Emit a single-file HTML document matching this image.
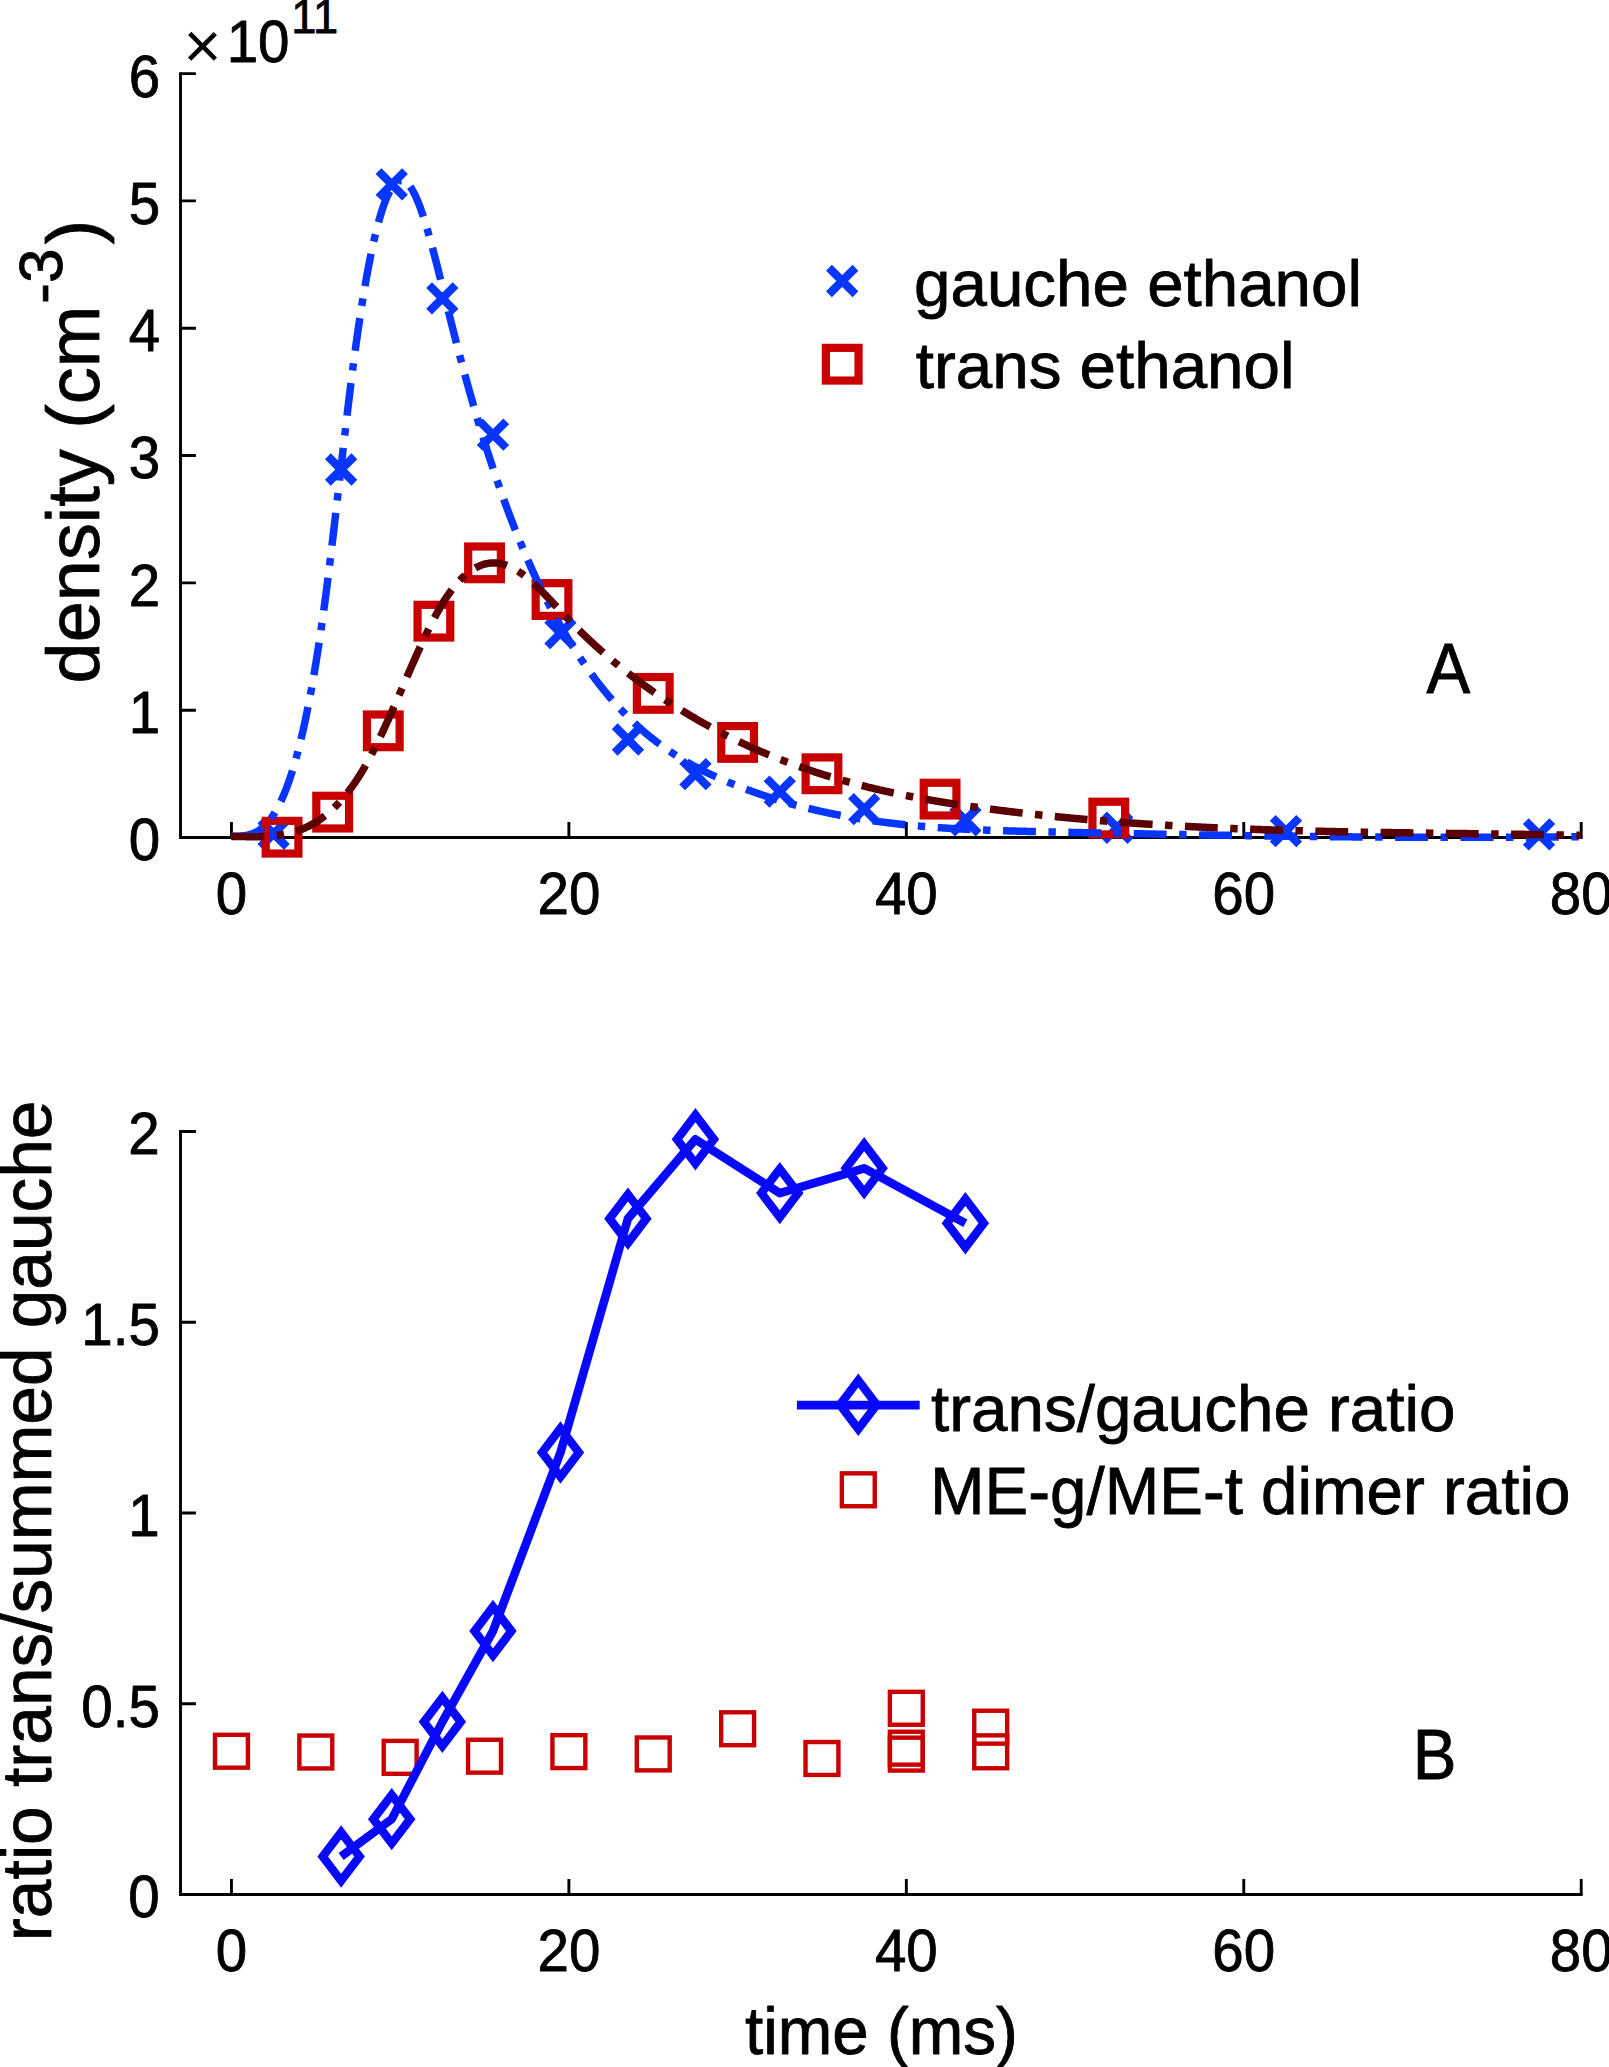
<!DOCTYPE html>
<html><head><meta charset="utf-8"><title>density and ratio plot</title>
<style>html,body{margin:0;padding:0;background:#fff;}svg{display:block;}</style>
</head><body>
<svg width="1609" height="2067" viewBox="0 0 1609 2067" font-family="'Liberation Sans', Arial, Helvetica, sans-serif" fill="#000">
<style>text{stroke:#000;stroke-width:0.8px;stroke-linejoin:round;}</style>
<rect width="1609" height="2067" fill="#fff"/>
<path d="M180.5,72.15V837.5H1582.61" stroke="#000" stroke-width="2.9" fill="none" stroke-linecap="butt" stroke-linejoin="miter"/>
<path d="M180.5,837.50h15.4M180.5,710.18h15.4M180.5,582.87h15.4M180.5,455.55h15.4M180.5,328.23h15.4M180.5,200.92h15.4M180.5,73.60h15.4M231.45,837.5v-15.4M568.89,837.5v-15.4M906.33,837.5v-15.4M1243.77,837.5v-15.4M1581.21,837.5v-15.4" stroke="#000" stroke-width="2.9" fill="none"/>
<text transform="translate(160.20,860.41) scale(1,1.045)" font-size="56.5" text-anchor="end" >0</text>
<text transform="translate(160.20,733.09) scale(1,1.045)" font-size="56.5" text-anchor="end" >1</text>
<text transform="translate(160.20,605.77) scale(1,1.045)" font-size="56.5" text-anchor="end" >2</text>
<text transform="translate(160.20,478.45) scale(1,1.045)" font-size="56.5" text-anchor="end" >3</text>
<text transform="translate(160.20,351.14) scale(1,1.045)" font-size="56.5" text-anchor="end" >4</text>
<text transform="translate(160.20,223.82) scale(1,1.045)" font-size="56.5" text-anchor="end" >5</text>
<text transform="translate(160.20,96.50) scale(1,1.045)" font-size="56.5" text-anchor="end" >6</text>
<text transform="translate(231.45,913.91) scale(1,1.045)" font-size="56.5" text-anchor="middle" >0</text>
<text transform="translate(568.89,913.91) scale(1,1.045)" font-size="56.5" text-anchor="middle" >20</text>
<text transform="translate(906.33,913.91) scale(1,1.045)" font-size="56.5" text-anchor="middle" >40</text>
<text transform="translate(1243.77,913.91) scale(1,1.045)" font-size="56.5" text-anchor="middle" >60</text>
<text transform="translate(1581.21,913.91) scale(1,1.045)" font-size="56.5" text-anchor="middle" >80</text>
<text transform="translate(183.4,68.3)" font-size="65" style="stroke-width:0">×</text>
<text transform="translate(226.69,61.5) scale(1,1.045)" font-size="56.5">10</text>
<text transform="translate(291.25,33) scale(1,1.045)" font-size="45.3">11</text>
<path d="M260.38,820.51L286.88,847.01M260.38,847.01L286.88,820.51" stroke="#0836ff" stroke-width="8.2" fill="none"/>
<path d="M327.87,456.23L354.37,482.73M327.87,482.73L354.37,456.23" stroke="#0836ff" stroke-width="8.2" fill="none"/>
<path d="M378.48,171.05L404.98,197.55M378.48,197.55L404.98,171.05" stroke="#0836ff" stroke-width="8.2" fill="none"/>
<path d="M429.10,285.17L455.60,311.67M429.10,311.67L455.60,285.17" stroke="#0836ff" stroke-width="8.2" fill="none"/>
<path d="M479.72,421.46L506.22,447.96M479.72,447.96L506.22,421.46" stroke="#0836ff" stroke-width="8.2" fill="none"/>
<path d="M547.20,619.90L573.70,646.40M547.20,646.40L573.70,619.90" stroke="#0836ff" stroke-width="8.2" fill="none"/>
<path d="M614.69,726.26L641.19,752.76M614.69,752.76L641.19,726.26" stroke="#0836ff" stroke-width="8.2" fill="none"/>
<path d="M682.18,760.90L708.68,787.40M682.18,787.40L708.68,760.90" stroke="#0836ff" stroke-width="8.2" fill="none"/>
<path d="M766.54,778.35L793.04,804.85M766.54,804.85L793.04,778.35" stroke="#0836ff" stroke-width="8.2" fill="none"/>
<path d="M850.90,795.80L877.40,822.30M850.90,822.30L877.40,795.80" stroke="#0836ff" stroke-width="8.2" fill="none"/>
<path d="M952.13,807.01L978.63,833.51M952.13,833.51L978.63,807.01" stroke="#0836ff" stroke-width="8.2" fill="none"/>
<path d="M1103.98,814.52L1130.48,841.02M1103.98,841.02L1130.48,814.52" stroke="#0836ff" stroke-width="8.2" fill="none"/>
<path d="M1272.70,817.96L1299.20,844.46M1272.70,844.46L1299.20,817.96" stroke="#0836ff" stroke-width="8.2" fill="none"/>
<path d="M1525.78,821.15L1552.28,847.65M1525.78,847.65L1552.28,821.15" stroke="#0836ff" stroke-width="8.2" fill="none"/>
<rect x="265.72" y="820.85" width="32.70" height="32.70" stroke="#c80000" stroke-width="8.2" fill="none"/>
<rect x="316.33" y="795.76" width="32.70" height="32.70" stroke="#c80000" stroke-width="8.2" fill="none"/>
<rect x="366.95" y="714.50" width="32.70" height="32.70" stroke="#c80000" stroke-width="8.2" fill="none"/>
<rect x="417.56" y="604.83" width="32.70" height="32.70" stroke="#c80000" stroke-width="8.2" fill="none"/>
<rect x="468.18" y="546.50" width="32.70" height="32.70" stroke="#c80000" stroke-width="8.2" fill="none"/>
<rect x="535.67" y="583.18" width="32.70" height="32.70" stroke="#c80000" stroke-width="8.2" fill="none"/>
<rect x="636.90" y="677.05" width="32.70" height="32.70" stroke="#c80000" stroke-width="8.2" fill="none"/>
<rect x="721.26" y="726.09" width="32.70" height="32.70" stroke="#c80000" stroke-width="8.2" fill="none"/>
<rect x="805.62" y="757.42" width="32.70" height="32.70" stroke="#c80000" stroke-width="8.2" fill="none"/>
<rect x="923.72" y="782.77" width="32.70" height="32.70" stroke="#c80000" stroke-width="8.2" fill="none"/>
<rect x="1092.44" y="801.74" width="32.70" height="32.70" stroke="#c80000" stroke-width="8.2" fill="none"/>
<path d="M231.40,836.16 L232.30,836.18 L233.20,836.20 L234.10,836.21 L235.00,836.22 L235.90,836.22 L236.80,836.22 L237.70,836.20 L238.60,836.18 L239.50,836.14 L240.40,836.10 L241.30,836.03 L242.20,835.96 L243.10,835.87 L244.00,835.76 L244.90,835.63 L245.80,835.48 L246.70,835.31 L247.60,835.12 L248.50,834.91 L249.40,834.67 L250.30,834.41 L251.20,834.11 L252.10,833.79 L253.00,833.45 L253.90,833.06 L254.80,832.65 L255.70,832.21 L256.60,831.73 L257.50,831.21 L258.40,830.66 L259.30,830.07 L260.20,829.44 L261.10,828.77 L262.00,828.05 L262.90,827.30 L263.80,826.50 L264.70,825.65 L265.60,824.76 L266.50,823.82 L267.40,822.83 L268.30,821.79 L269.20,820.70 L270.09,819.56 L270.99,818.36 L271.89,817.11 L272.79,815.80 L273.69,814.43 L274.59,813.01 L275.49,811.52 L276.39,809.97 L277.29,808.36 L278.19,806.69 L279.09,804.95 L279.99,803.14 L280.89,801.27 L281.79,799.33 L282.69,797.32 L283.59,795.23 L284.49,793.08 L285.39,790.85 L286.29,788.54 L287.19,786.16 L288.09,783.71 L288.99,781.17 L289.89,778.55 L290.79,775.86 L291.69,773.08 L292.59,770.22 L293.49,767.27 L294.39,764.24 L295.29,761.12 L296.19,757.91 L297.09,754.61 L297.99,751.22 L298.89,747.74 L299.79,744.17 L300.69,740.50 L301.59,736.73 L302.49,732.87 L303.39,728.91 L304.29,724.86 L305.19,720.70 L306.09,716.43 L306.99,712.07 L307.89,707.60 L308.79,703.03 L309.69,698.35 L310.59,693.56 L311.49,688.66 L312.39,683.65 L313.29,678.53 L314.19,673.30 L315.09,667.96 L315.99,662.49 L316.89,656.92 L317.79,651.22 L318.69,645.40 L319.59,639.47 L320.49,633.41 L321.39,627.23 L322.29,620.93 L323.19,614.50 L324.09,607.95 L324.99,601.27 L325.89,594.46 L326.79,587.52 L327.69,580.46 L328.59,573.29 L329.49,566.01 L330.39,558.65 L331.29,551.19 L332.19,543.66 L333.09,536.05 L333.99,528.39 L334.89,520.67 L335.79,512.91 L336.69,505.11 L337.59,497.28 L338.49,489.44 L339.39,481.58 L340.29,473.72 L341.19,465.86 L342.09,458.02 L342.99,450.20 L343.89,442.42 L344.79,434.67 L345.69,426.96 L346.59,419.32 L347.48,411.74 L348.38,404.23 L349.28,396.80 L350.18,389.46 L351.08,382.22 L351.98,375.09 L352.88,368.07 L353.78,361.17 L354.68,354.40 L355.58,347.76 L356.48,341.25 L357.38,334.87 L358.28,328.62 L359.18,322.50 L360.08,316.51 L360.98,310.64 L361.88,304.91 L362.78,299.31 L363.68,293.83 L364.58,288.49 L365.48,283.27 L366.38,278.19 L367.28,273.23 L368.18,268.40 L369.08,263.70 L369.98,259.13 L370.88,254.69 L371.78,250.38 L372.68,246.20 L373.58,242.15 L374.48,238.22 L375.38,234.43 L376.28,230.76 L377.18,227.23 L378.08,223.82 L378.98,220.54 L379.88,217.39 L380.78,214.37 L381.68,211.48 L382.58,208.72 L383.48,206.09 L384.38,203.58 L385.28,201.21 L386.18,198.96 L387.08,196.85 L387.98,194.86 L388.88,193.00 L389.78,191.27 L390.68,189.67 L391.58,188.20 L392.48,186.85 L393.38,185.64 L394.28,184.55 L395.18,183.59 L396.08,182.76 L396.98,182.06 L397.88,181.49 L398.78,181.05 L399.68,180.74 L400.58,180.55 L401.48,180.49" stroke="#0836ff" stroke-width="7.5" fill="none" stroke-dasharray="32.950 12.481 7.489 12.481"/>
<path d="M401.48,180.49 L402.38,180.57 L403.28,180.77 L404.18,181.10 L405.08,181.56 L405.98,182.14 L406.88,182.86 L407.78,183.70 L408.68,184.67 L409.58,185.77 L410.48,187.00 L411.38,188.36 L412.28,189.83 L413.18,191.43 L414.08,193.14 L414.98,194.96 L415.88,196.89 L416.78,198.92 L417.68,201.06 L418.58,203.30 L419.48,205.63 L420.38,208.05 L421.28,210.57 L422.18,213.17 L423.08,215.85 L423.98,218.61 L424.87,221.44 L425.77,224.35 L426.67,227.32 L427.57,230.36 L428.47,233.47 L429.37,236.63 L430.27,239.85 L431.17,243.12 L432.07,246.43 L432.97,249.80 L433.87,253.21 L434.77,256.65 L435.67,260.13 L436.57,263.65 L437.47,267.19 L438.37,270.76 L439.27,274.35 L440.17,277.96 L441.07,281.58 L441.97,285.22 L442.87,288.87 L443.77,292.52 L444.67,296.17 L445.57,299.83 L446.47,303.48 L447.37,307.12 L448.27,310.75 L449.17,314.37 L450.07,317.97 L450.97,321.56 L451.87,325.12 L452.77,328.67 L453.67,332.20 L454.57,335.72 L455.47,339.22 L456.37,342.70 L457.27,346.16 L458.17,349.60 L459.07,353.03 L459.97,356.44 L460.87,359.83 L461.77,363.20 L462.67,366.55 L463.57,369.89 L464.47,373.20 L465.37,376.50 L466.27,379.78 L467.17,383.04 L468.07,386.28 L468.97,389.50 L469.87,392.70 L470.77,395.88 L471.67,399.04 L472.57,402.19 L473.47,405.31 L474.37,408.41 L475.27,411.50 L476.17,414.56 L477.07,417.60 L477.97,420.63 L478.87,423.63 L479.77,426.62 L480.67,429.58 L481.57,432.53 L482.47,435.46 L483.37,438.37 L484.27,441.26 L485.17,444.13 L486.07,446.98 L486.97,449.81 L487.87,452.62 L488.77,455.42 L489.67,458.20 L490.57,460.96 L491.47,463.70 L492.37,466.42 L493.27,469.12 L494.17,471.81 L495.07,474.47 L495.97,477.12 L496.87,479.76 L497.77,482.37 L498.67,484.97 L499.57,487.54 L500.47,490.11 L501.36,492.65 L502.26,495.18 L503.16,497.69 L504.06,500.18 L504.96,502.65 L505.86,505.11 L506.76,507.55 L507.66,509.98 L508.56,512.39 L509.46,514.78 L510.36,517.15 L511.26,519.51 L512.16,521.85 L513.06,524.18 L513.96,526.49 L514.86,528.78 L515.76,531.06 L516.66,533.32 L517.56,535.56 L518.46,537.79 L519.36,540.01 L520.26,542.20 L521.16,544.39 L522.06,546.55 L522.96,548.71 L523.86,550.84 L524.76,552.96 L525.66,555.07 L526.56,557.16 L527.46,559.24 L528.36,561.30 L529.26,563.35 L530.16,565.38 L531.06,567.40 L531.96,569.40 L532.86,571.39 L533.76,573.36 L534.66,575.32 L535.56,577.27 L536.46,579.20 L537.36,581.12 L538.26,583.03 L539.16,584.92 L540.06,586.79 L540.96,588.66 L541.86,590.51 L542.76,592.34 L543.66,594.16 L544.56,595.97 L545.46,597.77 L546.36,599.55 L547.26,601.32 L548.16,603.08 L549.06,604.82 L549.96,606.56 L550.86,608.28 L551.76,609.98 L552.66,611.68 L553.56,613.36 L554.46,615.03 L555.36,616.68 L556.26,618.33 L557.16,619.96 L558.06,621.58 L558.96,623.19 L559.86,624.79 L560.76,626.37 L561.66,627.94 L562.56,629.51 L563.46,631.06 L564.36,632.59 L565.26,634.12 L566.16,635.64 L567.06,637.14 L567.96,638.64 L568.86,640.12 L569.76,641.59 L570.66,643.06 L571.56,644.51 L572.46,645.95 L573.36,647.38 L574.26,648.80 L575.16,650.20 L576.06,651.60 L576.96,652.99 L577.86,654.37 L578.75,655.74 L579.65,657.10 L580.55,658.44 L581.45,659.78 L582.35,661.11 L583.25,662.43 L584.15,663.74 L585.05,665.04 L585.95,666.33 L586.85,667.61 L587.75,668.88 L588.65,670.15 L589.55,671.40 L590.45,672.64 L591.35,673.88 L592.25,675.10 L593.15,676.32 L594.05,677.53 L594.95,678.72 L595.85,679.91 L596.75,681.09 L597.65,682.26 L598.55,683.43 L599.45,684.58 L600.35,685.72 L601.25,686.86 L602.15,687.99 L603.05,689.10 L603.95,690.21 L604.85,691.32 L605.75,692.41 L606.65,693.49 L607.55,694.57 L608.45,695.64 L609.35,696.70 L610.25,697.75 L611.15,698.79 L612.05,699.83 L612.95,700.85 L613.85,701.87 L614.75,702.88 L615.65,703.88 L616.55,704.88 L617.45,705.87 L618.35,706.84 L619.25,707.82 L620.15,708.78 L621.05,709.74 L621.95,710.68 L622.85,711.62 L623.75,712.56 L624.65,713.48 L625.55,714.40 L626.45,715.31 L627.35,716.21 L628.25,717.11 L629.15,718.00 L630.05,718.88 L630.95,719.75 L631.85,720.62 L632.75,721.48 L633.65,722.33 L634.55,723.18 L635.45,724.02 L636.35,724.85 L637.25,725.68 L638.15,726.50 L639.05,727.31 L639.95,728.11 L640.85,728.91 L641.75,729.70 L642.65,730.49 L643.55,731.27 L644.45,732.04 L645.35,732.81 L646.25,733.56 L647.15,734.32 L648.05,735.06 L648.95,735.81 L649.85,736.54 L650.75,737.27 L651.65,737.99 L652.55,738.71 L653.45,739.42 L654.35,740.12 L655.25,740.82 L656.14,741.51 L657.04,742.20 L657.94,742.88 L658.84,743.56 L659.74,744.22 L660.64,744.89 L661.54,745.55 L662.44,746.20 L663.34,746.85 L664.24,747.49 L665.14,748.13 L666.04,748.76 L666.94,749.38 L667.84,750.00 L668.74,750.62 L669.64,751.23 L670.54,751.83 L671.44,752.43 L672.34,753.03 L673.24,753.62 L674.14,754.20 L675.04,754.78 L675.94,755.36 L676.84,755.93 L677.74,756.50 L678.64,757.06 L679.54,757.62 L680.44,758.17 L681.34,758.72 L682.24,759.26 L683.14,759.80 L684.04,760.33 L684.94,760.86 L685.84,761.39 L686.74,761.91 L687.64,762.43 L688.54,762.94 L689.44,763.45 L690.34,763.95 L691.24,764.45 L692.14,764.95 L693.04,765.44 L693.94,765.93 L694.84,766.42 L695.74,766.90 L696.64,767.38 L697.54,767.85 L698.44,768.32 L699.34,768.79 L700.24,769.25 L701.14,769.71 L702.04,770.17 L702.94,770.62 L703.84,771.07 L704.74,771.51 L705.64,771.96 L706.54,772.40 L707.44,772.83 L708.34,773.27 L709.24,773.70 L710.14,774.12 L711.04,774.55 L711.94,774.97 L712.84,775.39 L713.74,775.80 L714.64,776.21 L715.54,776.62 L716.44,777.03 L717.34,777.44 L718.24,777.84 L719.14,778.24 L720.04,778.63 L720.94,779.03 L721.84,779.42 L722.74,779.81 L723.64,780.20 L724.54,780.58 L725.44,780.97 L726.34,781.35 L727.24,781.72 L728.14,782.10 L729.04,782.48 L729.94,782.85 L730.84,783.22 L731.74,783.59 L732.64,783.95 L733.53,784.32 L734.43,784.68 L735.33,785.04 L736.23,785.40 L737.13,785.76 L738.03,786.11 L738.93,786.46 L739.83,786.81 L740.73,787.16 L741.63,787.51 L742.53,787.86 L743.43,788.20 L744.33,788.54 L745.23,788.88 L746.13,789.22 L747.03,789.55 L747.93,789.89 L748.83,790.22 L749.73,790.55 L750.63,790.88 L751.53,791.21 L752.43,791.53 L753.33,791.85 L754.23,792.18 L755.13,792.50 L756.03,792.81 L756.93,793.13 L757.83,793.44 L758.73,793.76 L759.63,794.07 L760.53,794.37 L761.43,794.68 L762.33,794.99 L763.23,795.29 L764.13,795.59 L765.03,795.89 L765.93,796.19 L766.83,796.49 L767.73,796.78 L768.63,797.07 L769.53,797.37 L770.43,797.65 L771.33,797.94 L772.23,798.23 L773.13,798.51 L774.03,798.80 L774.93,799.08 L775.83,799.36 L776.73,799.63 L777.63,799.91 L778.53,800.18 L779.43,800.46 L780.33,800.73 L781.23,801.00 L782.13,801.26 L783.03,801.53 L783.93,801.79 L784.83,802.06 L785.73,802.32 L786.63,802.58 L787.53,802.84 L788.43,803.09 L789.33,803.35 L790.23,803.60 L791.13,803.85 L792.03,804.10 L792.93,804.35 L793.83,804.60 L794.73,804.84 L795.63,805.09 L796.53,805.33 L797.43,805.57 L798.33,805.81 L799.23,806.04 L800.13,806.28 L801.03,806.51 L801.93,806.75 L802.83,806.98 L803.73,807.21 L804.63,807.44 L805.53,807.66 L806.43,807.89 L807.33,808.11 L808.23,808.33 L809.13,808.55 L810.02,808.77 L810.92,808.99 L811.82,809.21 L812.72,809.42 L813.62,809.64 L814.52,809.85 L815.42,810.06 L816.32,810.27 L817.22,810.48 L818.12,810.68 L819.02,810.89 L819.92,811.09 L820.82,811.29 L821.72,811.49 L822.62,811.69 L823.52,811.89 L824.42,812.09 L825.32,812.28 L826.22,812.47 L827.12,812.67 L828.02,812.86 L828.92,813.05 L829.82,813.23 L830.72,813.42 L831.62,813.61 L832.52,813.79 L833.42,813.97 L834.32,814.16 L835.22,814.34 L836.12,814.51 L837.02,814.69 L837.92,814.87 L838.82,815.04 L839.72,815.22 L840.62,815.39 L841.52,815.56 L842.42,815.73 L843.32,815.90 L844.22,816.06 L845.12,816.23 L846.02,816.39 L846.92,816.56 L847.82,816.72 L848.72,816.88 L849.62,817.04 L850.52,817.20 L851.42,817.36 L852.32,817.51 L853.22,817.67 L854.12,817.82 L855.02,817.97 L855.92,818.12 L856.82,818.27 L857.72,818.42 L858.62,818.57 L859.52,818.72 L860.42,818.86 L861.32,819.01 L862.22,819.15 L863.12,819.29 L864.02,819.43 L864.92,819.57 L865.82,819.71 L866.72,819.85 L867.62,819.98 L868.52,820.12 L869.42,820.25 L870.32,820.38 L871.22,820.51 L872.12,820.64 L873.02,820.77 L873.92,820.90 L874.82,821.03 L875.72,821.15 L876.62,821.28 L877.52,821.40 L878.42,821.53 L879.32,821.65 L880.22,821.77 L881.12,821.89 L882.02,822.01 L882.92,822.13 L883.82,822.24 L884.72,822.36 L885.62,822.47 L886.52,822.59 L887.41,822.70 L888.31,822.81 L889.21,822.92 L890.11,823.03 L891.01,823.14 L891.91,823.25 L892.81,823.35 L893.71,823.46 L894.61,823.56 L895.51,823.67 L896.41,823.77 L897.31,823.87 L898.21,823.97 L899.11,824.07 L900.01,824.17 L900.91,824.27 L901.81,824.37 L902.71,824.46 L903.61,824.56 L904.51,824.65 L905.41,824.74 L906.31,824.84 L907.21,824.93 L908.11,825.02 L909.01,825.11 L909.91,825.20 L910.81,825.29 L911.71,825.37 L912.61,825.46 L913.51,825.55 L914.41,825.63 L915.31,825.72 L916.21,825.80 L917.11,825.88 L918.01,825.96 L918.91,826.04 L919.81,826.12 L920.71,826.20 L921.61,826.28 L922.51,826.36 L923.41,826.43 L924.31,826.51 L925.21,826.58 L926.11,826.66 L927.01,826.73 L927.91,826.81 L928.81,826.88 L929.71,826.95 L930.61,827.02 L931.51,827.09 L932.41,827.16 L933.31,827.23 L934.21,827.29 L935.11,827.36 L936.01,827.43 L936.91,827.49 L937.81,827.56 L938.71,827.62 L939.61,827.68 L940.51,827.75 L941.41,827.81 L942.31,827.87 L943.21,827.93 L944.11,827.99 L945.01,828.05 L945.91,828.11 L946.81,828.17 L947.71,828.22 L948.61,828.28 L949.51,828.34 L950.41,828.39 L951.31,828.45 L952.21,828.50 L953.11,828.55 L954.01,828.61 L954.91,828.66 L955.81,828.71 L956.71,828.76 L957.61,828.81 L958.51,828.86 L959.41,828.91 L960.31,828.96 L961.21,829.01 L962.11,829.06 L963.01,829.11 L963.91,829.15 L964.80,829.20 L965.70,829.24 L966.60,829.29 L967.50,829.33 L968.40,829.38 L969.30,829.42 L970.20,829.46 L971.10,829.51 L972.00,829.55 L972.90,829.59 L973.80,829.63 L974.70,829.67 L975.60,829.71 L976.50,829.75 L977.40,829.79 L978.30,829.83 L979.20,829.87 L980.10,829.91 L981.00,829.94 L981.90,829.98 L982.80,830.02 L983.70,830.05 L984.60,830.09 L985.50,830.12 L986.40,830.16 L987.30,830.19 L988.20,830.23 L989.10,830.26 L990.00,830.29 L990.90,830.33 L991.80,830.36 L992.70,830.39 L993.60,830.42 L994.50,830.45 L995.40,830.48 L996.30,830.52 L997.20,830.55 L998.10,830.58 L999.00,830.61 L999.90,830.63 L1000.80,830.66 L1001.70,830.69 L1002.60,830.72 L1003.50,830.75 L1004.40,830.78 L1005.30,830.80 L1006.20,830.83 L1007.10,830.86 L1008.00,830.89 L1008.90,830.91 L1009.80,830.94 L1010.70,830.96 L1011.60,830.99 L1012.50,831.01 L1013.40,831.04 L1014.30,831.06 L1015.20,831.09 L1016.10,831.11 L1017.00,831.14 L1017.90,831.16 L1018.80,831.19 L1019.70,831.21 L1020.60,831.23 L1021.50,831.26 L1022.40,831.28 L1023.30,831.30 L1024.20,831.32 L1025.10,831.35 L1026.00,831.37 L1026.90,831.39 L1027.80,831.41 L1028.70,831.43 L1029.60,831.46 L1030.50,831.48 L1031.40,831.50 L1032.30,831.52 L1033.20,831.54 L1034.10,831.56 L1035.00,831.58 L1035.90,831.60 L1036.80,831.62 L1037.70,831.65 L1038.60,831.67 L1039.50,831.69 L1040.40,831.71 L1041.29,831.73 L1042.19,831.75 L1043.09,831.77 L1043.99,831.79 L1044.89,831.81 L1045.79,831.83 L1046.69,831.85 L1047.59,831.87 L1048.49,831.89 L1049.39,831.91 L1050.29,831.93 L1051.19,831.95 L1052.09,831.97 L1052.99,831.99 L1053.89,832.01 L1054.79,832.03 L1055.69,832.04 L1056.59,832.06 L1057.49,832.08 L1058.39,832.10 L1059.29,832.12 L1060.19,832.14 L1061.09,832.16 L1061.99,832.18 L1062.89,832.20 L1063.79,832.22 L1064.69,832.24 L1065.59,832.26 L1066.49,832.28 L1067.39,832.30 L1068.29,832.32 L1069.19,832.34 L1070.09,832.36 L1070.99,832.38 L1071.89,832.40 L1072.79,832.42 L1073.69,832.43 L1074.59,832.45 L1075.49,832.47 L1076.39,832.49 L1077.29,832.51 L1078.19,832.53 L1079.09,832.55 L1079.99,832.57 L1080.89,832.59 L1081.79,832.61 L1082.69,832.63 L1083.59,832.65 L1084.49,832.66 L1085.39,832.68 L1086.29,832.70 L1087.19,832.72 L1088.09,832.74 L1088.99,832.76 L1089.89,832.78 L1090.79,832.80 L1091.69,832.82 L1092.59,832.83 L1093.49,832.85 L1094.39,832.87 L1095.29,832.89 L1096.19,832.91 L1097.09,832.93 L1097.99,832.95 L1098.89,832.97 L1099.79,832.98 L1100.69,833.00 L1101.59,833.02 L1102.49,833.04 L1103.39,833.06 L1104.29,833.08 L1105.19,833.10 L1106.09,833.11 L1106.99,833.13 L1107.89,833.15 L1108.79,833.17 L1109.69,833.19 L1110.59,833.21 L1111.49,833.23 L1112.39,833.24 L1113.29,833.26 L1114.19,833.28 L1115.09,833.30 L1115.99,833.32 L1116.89,833.34 L1117.79,833.35 L1118.68,833.37 L1119.58,833.39 L1120.48,833.41 L1121.38,833.43 L1122.28,833.44 L1123.18,833.46 L1124.08,833.48 L1124.98,833.50 L1125.88,833.52 L1126.78,833.53 L1127.68,833.55 L1128.58,833.57 L1129.48,833.59 L1130.38,833.61 L1131.28,833.62 L1132.18,833.64 L1133.08,833.66 L1133.98,833.68 L1134.88,833.69 L1135.78,833.71 L1136.68,833.73 L1137.58,833.75 L1138.48,833.76 L1139.38,833.78 L1140.28,833.80 L1141.18,833.82 L1142.08,833.83 L1142.98,833.85 L1143.88,833.87 L1144.78,833.89 L1145.68,833.90 L1146.58,833.92 L1147.48,833.94 L1148.38,833.96 L1149.28,833.97 L1150.18,833.99 L1151.08,834.01 L1151.98,834.02 L1152.88,834.04 L1153.78,834.06 L1154.68,834.08 L1155.58,834.09 L1156.48,834.11 L1157.38,834.13 L1158.28,834.14 L1159.18,834.16 L1160.08,834.18 L1160.98,834.19 L1161.88,834.21 L1162.78,834.23 L1163.68,834.24 L1164.58,834.26 L1165.48,834.28 L1166.38,834.29 L1167.28,834.31 L1168.18,834.33 L1169.08,834.34 L1169.98,834.36 L1170.88,834.38 L1171.78,834.39 L1172.68,834.41 L1173.58,834.43 L1174.48,834.44 L1175.38,834.46 L1176.28,834.47 L1177.18,834.49 L1178.08,834.51 L1178.98,834.52 L1179.88,834.54 L1180.78,834.56 L1181.68,834.57 L1182.58,834.59 L1183.48,834.60 L1184.38,834.62 L1185.28,834.64 L1186.18,834.65 L1187.08,834.67 L1187.98,834.68 L1188.88,834.70 L1189.78,834.71 L1190.68,834.73 L1191.58,834.75 L1192.48,834.76 L1193.38,834.78 L1194.28,834.79 L1195.18,834.81 L1196.07,834.82 L1196.97,834.84 L1197.87,834.85 L1198.77,834.87 L1199.67,834.89 L1200.57,834.90 L1201.47,834.92 L1202.37,834.93 L1203.27,834.95 L1204.17,834.96 L1205.07,834.98 L1205.97,834.99 L1206.87,835.01 L1207.77,835.02 L1208.67,835.04 L1209.57,835.05 L1210.47,835.07 L1211.37,835.08 L1212.27,835.10 L1213.17,835.11 L1214.07,835.13 L1214.97,835.14 L1215.87,835.16 L1216.77,835.17 L1217.67,835.18 L1218.57,835.20 L1219.47,835.21 L1220.37,835.23 L1221.27,835.24 L1222.17,835.26 L1223.07,835.27 L1223.97,835.29 L1224.87,835.30 L1225.77,835.31 L1226.67,835.33 L1227.57,835.34 L1228.47,835.36 L1229.37,835.37 L1230.27,835.39 L1231.17,835.40 L1232.07,835.41 L1232.97,835.43 L1233.87,835.44 L1234.77,835.45 L1235.67,835.47 L1236.57,835.48 L1237.47,835.50 L1238.37,835.51 L1239.27,835.52 L1240.17,835.54 L1241.07,835.55 L1241.97,835.56 L1242.87,835.58 L1243.77,835.59 L1244.67,835.60 L1245.57,835.62 L1246.47,835.63 L1247.37,835.64 L1248.27,835.66 L1249.17,835.67 L1250.07,835.68 L1250.97,835.70 L1251.87,835.71 L1252.77,835.72 L1253.67,835.74 L1254.57,835.75 L1255.47,835.76 L1256.37,835.78 L1257.27,835.79 L1258.17,835.80 L1259.07,835.81 L1259.97,835.83 L1260.87,835.84 L1261.77,835.85 L1262.67,835.86 L1263.57,835.88 L1264.47,835.89 L1265.37,835.90 L1266.27,835.91 L1267.17,835.93 L1268.07,835.94 L1268.97,835.95 L1269.87,835.96 L1270.77,835.98 L1271.67,835.99 L1272.56,836.00 L1273.46,836.01 L1274.36,836.02 L1275.26,836.04 L1276.16,836.05 L1277.06,836.06 L1277.96,836.07 L1278.86,836.08 L1279.76,836.09 L1280.66,836.11 L1281.56,836.12 L1282.46,836.13 L1283.36,836.14 L1284.26,836.15 L1285.16,836.16 L1286.06,836.17 L1286.96,836.19 L1287.86,836.20 L1288.76,836.21 L1289.66,836.22 L1290.56,836.23 L1291.46,836.24 L1292.36,836.25 L1293.26,836.26 L1294.16,836.27 L1295.06,836.29 L1295.96,836.30 L1296.86,836.31 L1297.76,836.32 L1298.66,836.33 L1299.56,836.34 L1300.46,836.35 L1301.36,836.36 L1302.26,836.37 L1303.16,836.38 L1304.06,836.39 L1304.96,836.40 L1305.86,836.41 L1306.76,836.42 L1307.66,836.43 L1308.56,836.44 L1309.46,836.45 L1310.36,836.46 L1311.26,836.47 L1312.16,836.48 L1313.06,836.49 L1313.96,836.50 L1314.86,836.51 L1315.76,836.52 L1316.66,836.53 L1317.56,836.54 L1318.46,836.55 L1319.36,836.56 L1320.26,836.57 L1321.16,836.58 L1322.06,836.59 L1322.96,836.60 L1323.86,836.61 L1324.76,836.62 L1325.66,836.63 L1326.56,836.64 L1327.46,836.64 L1328.36,836.65 L1329.26,836.66 L1330.16,836.67 L1331.06,836.68 L1331.96,836.69 L1332.86,836.70 L1333.76,836.71 L1334.66,836.72 L1335.56,836.72 L1336.46,836.73 L1337.36,836.74 L1338.26,836.75 L1339.16,836.76 L1340.06,836.77 L1340.96,836.77 L1341.86,836.78 L1342.76,836.79 L1343.66,836.80 L1344.56,836.81 L1345.46,836.81 L1346.36,836.82 L1347.26,836.83 L1348.16,836.84 L1349.06,836.85 L1349.95,836.85 L1350.85,836.86 L1351.75,836.87 L1352.65,836.88 L1353.55,836.88 L1354.45,836.89 L1355.35,836.90 L1356.25,836.91 L1357.15,836.91 L1358.05,836.92 L1358.95,836.93 L1359.85,836.94 L1360.75,836.94 L1361.65,836.95 L1362.55,836.96 L1363.45,836.96 L1364.35,836.97 L1365.25,836.98 L1366.15,836.98 L1367.05,836.99 L1367.95,837.00 L1368.85,837.00 L1369.75,837.01 L1370.65,837.02 L1371.55,837.02 L1372.45,837.03 L1373.35,837.04 L1374.25,837.04 L1375.15,837.05 L1376.05,837.05 L1376.95,837.06 L1377.85,837.07 L1378.75,837.07 L1379.65,837.08 L1380.55,837.08 L1381.45,837.09 L1382.35,837.09 L1383.25,837.10 L1384.15,837.11 L1385.05,837.11 L1385.95,837.12 L1386.85,837.12 L1387.75,837.13 L1388.65,837.13 L1389.55,837.14 L1390.45,837.14 L1391.35,837.15 L1392.25,837.15 L1393.15,837.16 L1394.05,837.16 L1394.95,837.17 L1395.85,837.17 L1396.75,837.18 L1397.65,837.18 L1398.55,837.19 L1399.45,837.19 L1400.35,837.20 L1401.25,837.20 L1402.15,837.20 L1403.05,837.21 L1403.95,837.21 L1404.85,837.22 L1405.75,837.22 L1406.65,837.22 L1407.55,837.23 L1408.45,837.23 L1409.35,837.24 L1410.25,837.24 L1411.15,837.24 L1412.05,837.25 L1412.95,837.25 L1413.85,837.25 L1414.75,837.26 L1415.65,837.26 L1416.55,837.26 L1417.45,837.27 L1418.35,837.27 L1419.25,837.27 L1420.15,837.28 L1421.05,837.28 L1421.95,837.28 L1422.85,837.29 L1423.75,837.29 L1424.65,837.29 L1425.55,837.29 L1426.45,837.30 L1427.34,837.30 L1428.24,837.30 L1429.14,837.30 L1430.04,837.30 L1430.94,837.30 L1431.84,837.30 L1432.74,837.30 L1433.64,837.30 L1434.54,837.30 L1435.44,837.30 L1436.34,837.30 L1437.24,837.30 L1438.14,837.30 L1439.04,837.30 L1439.94,837.30 L1440.84,837.30 L1441.74,837.30 L1442.64,837.30 L1443.54,837.30 L1444.44,837.30 L1445.34,837.30 L1446.24,837.30 L1447.14,837.30 L1448.04,837.30 L1448.94,837.30 L1449.84,837.30 L1450.74,837.30 L1451.64,837.30 L1452.54,837.30 L1453.44,837.30 L1454.34,837.30 L1455.24,837.30 L1456.14,837.30 L1457.04,837.30 L1457.94,837.30 L1458.84,837.30 L1459.74,837.30 L1460.64,837.30 L1461.54,837.30 L1462.44,837.30 L1463.34,837.30 L1464.24,837.30 L1465.14,837.30 L1466.04,837.30 L1466.94,837.30 L1467.84,837.30 L1468.74,837.30 L1469.64,837.30 L1470.54,837.30 L1471.44,837.30 L1472.34,837.30 L1473.24,837.30 L1474.14,837.30 L1475.04,837.30 L1475.94,837.30 L1476.84,837.30 L1477.74,837.30 L1478.64,837.30 L1479.54,837.30 L1480.44,837.30 L1481.34,837.30 L1482.24,837.30 L1483.14,837.30 L1484.04,837.30 L1484.94,837.30 L1485.84,837.30 L1486.74,837.30 L1487.64,837.30 L1488.54,837.30 L1489.44,837.30 L1490.34,837.30 L1491.24,837.30 L1492.14,837.30 L1493.04,837.30 L1493.94,837.30 L1494.84,837.30 L1495.74,837.29 L1496.64,837.29 L1497.54,837.29 L1498.44,837.29 L1499.34,837.28 L1500.24,837.28 L1501.14,837.28 L1502.04,837.27 L1502.94,837.27 L1503.84,837.27 L1504.73,837.26 L1505.63,837.26 L1506.53,837.26 L1507.43,837.25 L1508.33,837.25 L1509.23,837.24 L1510.13,837.24 L1511.03,837.24 L1511.93,837.23 L1512.83,837.23 L1513.73,837.22 L1514.63,837.22 L1515.53,837.22 L1516.43,837.21 L1517.33,837.21 L1518.23,837.20 L1519.13,837.20 L1520.03,837.19 L1520.93,837.19 L1521.83,837.18 L1522.73,837.18 L1523.63,837.17 L1524.53,837.17 L1525.43,837.16 L1526.33,837.16 L1527.23,837.15 L1528.13,837.15 L1529.03,837.14 L1529.93,837.14 L1530.83,837.13 L1531.73,837.12 L1532.63,837.12 L1533.53,837.11 L1534.43,837.11 L1535.33,837.10 L1536.23,837.09 L1537.13,837.09 L1538.03,837.08 L1538.93,837.07 L1539.83,837.07 L1540.73,837.06 L1541.63,837.06 L1542.53,837.05 L1543.43,837.04 L1544.33,837.03 L1545.23,837.03 L1546.13,837.02 L1547.03,837.01 L1547.93,837.01 L1548.83,837.00 L1549.73,836.99 L1550.63,836.98 L1551.53,836.98 L1552.43,836.97 L1553.33,836.96 L1554.23,836.95 L1555.13,836.95 L1556.03,836.94 L1556.93,836.93 L1557.83,836.92 L1558.73,836.91 L1559.63,836.91 L1560.53,836.90 L1561.43,836.89 L1562.33,836.88 L1563.23,836.87 L1564.13,836.86 L1565.03,836.85 L1565.93,836.85 L1566.83,836.84 L1567.73,836.83 L1568.63,836.82 L1569.53,836.81 L1570.43,836.80 L1571.33,836.79 L1572.23,836.78 L1573.13,836.77 L1574.03,836.76 L1574.93,836.75 L1575.83,836.74 L1576.73,836.73 L1577.63,836.72 L1578.53,836.71 L1579.43,836.70 L1580.33,836.69" stroke="#0836ff" stroke-width="7.5" fill="none" stroke-dasharray="32.935 12.475 7.485 12.475" stroke-dashoffset="54.36"/>
<path d="M231.40,836.38 L232.30,836.39 L233.20,836.40 L234.10,836.41 L235.00,836.42 L235.90,836.43 L236.80,836.45 L237.70,836.46 L238.60,836.48 L239.50,836.50 L240.40,836.51 L241.30,836.53 L242.20,836.55 L243.10,836.56 L244.00,836.58 L244.91,836.60 L245.81,836.61 L246.71,836.63 L247.61,836.64 L248.51,836.65 L249.41,836.67 L250.31,836.68 L251.21,836.68 L252.11,836.69 L253.01,836.69 L253.91,836.70 L254.81,836.70 L255.71,836.69 L256.61,836.69 L257.51,836.68 L258.41,836.67 L259.31,836.65 L260.21,836.64 L261.11,836.62 L262.01,836.59 L262.91,836.56 L263.81,836.53 L264.71,836.49 L265.61,836.45 L266.51,836.41 L267.41,836.36 L268.31,836.30 L269.21,836.24 L270.11,836.17 L271.01,836.10 L271.92,836.03 L272.82,835.94 L273.72,835.86 L274.62,835.76 L275.52,835.66 L276.42,835.56 L277.32,835.44 L278.22,835.32 L279.12,835.20 L280.02,835.06 L280.92,834.92 L281.82,834.77 L282.72,834.62 L283.62,834.45 L284.52,834.28 L285.42,834.10 L286.32,833.92 L287.22,833.72 L288.12,833.52 L289.02,833.30 L289.92,833.08 L290.82,832.85 L291.72,832.61 L292.62,832.36 L293.52,832.10 L294.42,831.83 L295.32,831.55 L296.22,831.26 L297.12,830.96 L298.02,830.65 L298.93,830.33 L299.83,830.00 L300.73,829.66 L301.63,829.30 L302.53,828.94 L303.43,828.56 L304.33,828.18 L305.23,827.78 L306.13,827.37 L307.03,826.94 L307.93,826.51 L308.83,826.06 L309.73,825.60 L310.63,825.13 L311.53,824.64 L312.43,824.14 L313.33,823.63 L314.23,823.10 L315.13,822.56 L316.03,822.01 L316.93,821.44 L317.83,820.86 L318.73,820.27 L319.63,819.66 L320.53,819.03 L321.43,818.39 L322.33,817.74 L323.23,817.07 L324.13,816.38 L325.03,815.68 L325.94,814.97 L326.84,814.24 L327.74,813.49 L328.64,812.72 L329.54,811.94 L330.44,811.15 L331.34,810.34 L332.24,809.51 L333.14,808.66 L334.04,807.79 L334.94,806.91 L335.84,806.01 L336.74,805.10 L337.64,804.16 L338.54,803.21 L339.44,802.24 L340.34,801.25 L341.24,800.25 L342.14,799.22 L343.04,798.18 L343.94,797.11 L344.84,796.03 L345.74,794.93 L346.64,793.81 L347.54,792.66 L348.44,791.50 L349.34,790.32 L350.24,789.12 L351.14,787.90 L352.04,786.66 L352.95,785.40 L353.85,784.11 L354.75,782.81 L355.65,781.48 L356.55,780.13 L357.45,778.77 L358.35,777.38 L359.25,775.96 L360.15,774.53 L361.05,773.07 L361.95,771.60 L362.85,770.09 L363.75,768.57 L364.65,767.02 L365.55,765.45 L366.45,763.86 L367.35,762.25 L368.25,760.61 L369.15,758.95 L370.05,757.27 L370.95,755.57 L371.85,753.85 L372.75,752.11 L373.65,750.35 L374.55,748.57 L375.45,746.78 L376.35,744.97 L377.25,743.14 L378.15,741.29 L379.05,739.43 L379.96,737.56 L380.86,735.67 L381.76,733.76 L382.66,731.84 L383.56,729.91 L384.46,727.97 L385.36,726.01 L386.26,724.05 L387.16,722.07 L388.06,720.08 L388.96,718.08 L389.86,716.08 L390.76,714.06 L391.66,712.04 L392.56,710.01 L393.46,707.97 L394.36,705.92 L395.26,703.87 L396.16,701.81 L397.06,699.75 L397.96,697.69 L398.86,695.62 L399.76,693.54 L400.66,691.47 L401.56,689.39 L402.46,687.31 L403.36,685.23 L404.26,683.14 L405.16,681.06 L406.06,678.98 L406.97,676.91 L407.87,674.83 L408.77,672.76 L409.67,670.69 L410.57,668.62 L411.47,666.56 L412.37,664.51 L413.27,662.46 L414.17,660.42 L415.07,658.39 L415.97,656.36 L416.87,654.34 L417.77,652.34 L418.67,650.34 L419.57,648.36 L420.47,646.38 L421.37,644.42 L422.27,642.47 L423.17,640.54 L424.07,638.62 L424.97,636.71 L425.87,634.82 L426.77,632.95 L427.67,631.09 L428.57,629.25 L429.47,627.43 L430.37,625.63 L431.27,623.84 L432.17,622.08 L433.07,620.34 L433.98,618.62 L434.88,616.92 L435.78,615.24 L436.68,613.59 L437.58,611.97 L438.48,610.36 L439.38,608.79 L440.28,607.23 L441.18,605.71 L442.08,604.21 L442.98,602.74 L443.88,601.30 L444.78,599.89 L445.68,598.51 L446.58,597.15 L447.48,595.82 L448.38,594.52 L449.28,593.24 L450.18,592.00 L451.08,590.78 L451.98,589.58 L452.88,588.42 L453.78,587.28 L454.68,586.17 L455.58,585.09 L456.48,584.03 L457.38,583.00 L458.28,582.00 L459.18,581.02 L460.08,580.07 L460.99,579.15 L461.89,578.25 L462.79,577.38 L463.69,576.54 L464.59,575.72 L465.49,574.93 L466.39,574.16 L467.29,573.42 L468.19,572.71 L469.09,572.02 L469.99,571.36 L470.89,570.72 L471.79,570.11 L472.69,569.52 L473.59,568.96 L474.49,568.43 L475.39,567.92 L476.29,567.43 L477.19,566.98 L478.09,566.54 L478.99,566.13 L479.89,565.75 L480.79,565.39 L481.69,565.06 L482.59,564.75 L483.49,564.46 L484.39,564.20 L485.29,563.96 L486.19,563.75 L487.09,563.57 L488.00,563.40 L488.90,563.26 L489.80,563.15 L490.70,563.06 L491.60,562.99 L492.50,562.95 L493.40,562.93 L494.30,562.93 L495.20,562.96 L496.10,563.01 L497.00,563.09 L497.90,563.18 L498.80,563.31 L499.70,563.45 L500.60,563.62 L501.50,563.81 L502.40,564.02 L503.30,564.26 L504.20,564.52 L505.10,564.80 L506.00,565.11 L506.90,565.43 L507.80,565.78 L508.70,566.15 L509.60,566.55 L510.50,566.96 L511.40,567.39 L512.30,567.85 L513.20,568.32 L514.10,568.82 L515.01,569.33 L515.91,569.86 L516.81,570.41 L517.71,570.97 L518.61,571.56 L519.51,572.16 L520.41,572.78 L521.31,573.41 L522.21,574.06 L523.11,574.72 L524.01,575.40 L524.91,576.10 L525.81,576.81 L526.71,577.53 L527.61,578.27 L528.51,579.02 L529.41,579.78 L530.31,580.55 L531.21,581.34 L532.11,582.14 L533.01,582.95 L533.91,583.77 L534.81,584.60 L535.71,585.44 L536.61,586.29 L537.51,587.14 L538.41,588.01 L539.31,588.89 L540.21,589.77 L541.11,590.66 L542.02,591.56 L542.92,592.47 L543.82,593.38 L544.72,594.30 L545.62,595.22 L546.52,596.15 L547.42,597.09 L548.32,598.03 L549.22,598.97 L550.12,599.91 L551.02,600.86 L551.92,601.82 L552.82,602.77 L553.72,603.73 L554.62,604.69 L555.52,605.65 L556.42,606.61 L557.32,607.57 L558.22,608.54 L559.12,609.50 L560.02,610.46 L560.92,611.42 L561.82,612.38 L562.72,613.34 L563.62,614.29 L564.52,615.25 L565.42,616.20 L566.32,617.14 L567.22,618.08 L568.12,619.02 L569.03,619.96 L569.93,620.89 L570.83,621.82 L571.73,622.74 L572.63,623.66 L573.53,624.57 L574.43,625.48 L575.33,626.39 L576.23,627.29 L577.13,628.19 L578.03,629.08 L578.93,629.98 L579.83,630.86 L580.73,631.75 L581.63,632.62 L582.53,633.50 L583.43,634.37 L584.33,635.24 L585.23,636.10 L586.13,636.96 L587.03,637.82 L587.93,638.67 L588.83,639.52 L589.73,640.37 L590.63,641.21 L591.53,642.05 L592.43,642.88 L593.33,643.71 L594.23,644.54 L595.13,645.36 L596.04,646.18 L596.94,647.00 L597.84,647.81 L598.74,648.62 L599.64,649.42 L600.54,650.23 L601.44,651.02 L602.34,651.82 L603.24,652.61 L604.14,653.40 L605.04,654.18 L605.94,654.97 L606.84,655.74 L607.74,656.52 L608.64,657.29 L609.54,658.06 L610.44,658.82 L611.34,659.58 L612.24,660.34 L613.14,661.10 L614.04,661.85 L614.94,662.60 L615.84,663.34 L616.74,664.08 L617.64,664.82 L618.54,665.56 L619.44,666.29 L620.34,667.02 L621.24,667.75 L622.14,668.47 L623.05,669.19 L623.95,669.91 L624.85,670.62 L625.75,671.33 L626.65,672.04 L627.55,672.75 L628.45,673.45 L629.35,674.15 L630.25,674.84 L631.15,675.54 L632.05,676.23 L632.95,676.91 L633.85,677.60 L634.75,678.28 L635.65,678.96 L636.55,679.64 L637.45,680.31 L638.35,680.98 L639.25,681.65 L640.15,682.31 L641.05,682.98 L641.95,683.64 L642.85,684.29 L643.75,684.95 L644.65,685.60 L645.55,686.25 L646.45,686.89 L647.35,687.54 L648.25,688.18 L649.15,688.82 L650.06,689.45 L650.96,690.09 L651.86,690.72 L652.76,691.35 L653.66,691.97 L654.56,692.60 L655.46,693.22 L656.36,693.84 L657.26,694.45 L658.16,695.07 L659.06,695.68 L659.96,696.29 L660.86,696.90 L661.76,697.50 L662.66,698.10 L663.56,698.70 L664.46,699.30 L665.36,699.90 L666.26,700.49 L667.16,701.08 L668.06,701.67 L668.96,702.26 L669.86,702.84 L670.76,703.42 L671.66,704.00 L672.56,704.58 L673.46,705.16 L674.36,705.73 L675.26,706.30 L676.16,706.87 L677.07,707.44 L677.97,708.00 L678.87,708.57 L679.77,709.13 L680.67,709.69 L681.57,710.24 L682.47,710.80 L683.37,711.35 L684.27,711.90 L685.17,712.45 L686.07,712.99 L686.97,713.54 L687.87,714.08 L688.77,714.62 L689.67,715.16 L690.57,715.69 L691.47,716.22 L692.37,716.76 L693.27,717.28 L694.17,717.81 L695.07,718.34 L695.97,718.86 L696.87,719.38 L697.77,719.90 L698.67,720.42 L699.57,720.93 L700.47,721.45 L701.37,721.96 L702.27,722.47 L703.17,722.97 L704.08,723.48 L704.98,723.98 L705.88,724.48 L706.78,724.98 L707.68,725.48 L708.58,725.97 L709.48,726.47 L710.38,726.96 L711.28,727.45 L712.18,727.93 L713.08,728.42 L713.98,728.90 L714.88,729.38 L715.78,729.86 L716.68,730.34 L717.58,730.82 L718.48,731.29 L719.38,731.76 L720.28,732.23 L721.18,732.70 L722.08,733.16 L722.98,733.63 L723.88,734.09 L724.78,734.55 L725.68,735.01 L726.58,735.47 L727.48,735.92 L728.38,736.37 L729.28,736.82 L730.18,737.27 L731.09,737.72 L731.99,738.17 L732.89,738.61 L733.79,739.05 L734.69,739.49 L735.59,739.93 L736.49,740.37 L737.39,740.80 L738.29,741.23 L739.19,741.66 L740.09,742.09 L740.99,742.52 L741.89,742.95 L742.79,743.37 L743.69,743.79 L744.59,744.21 L745.49,744.63 L746.39,745.05 L747.29,745.46 L748.19,745.87 L749.09,746.28 L749.99,746.69 L750.89,747.10 L751.79,747.51 L752.69,747.91 L753.59,748.31 L754.49,748.72 L755.39,749.11 L756.29,749.51 L757.19,749.91 L758.10,750.30 L759.00,750.69 L759.90,751.08 L760.80,751.47 L761.70,751.86 L762.60,752.25 L763.50,752.63 L764.40,753.01 L765.30,753.39 L766.20,753.77 L767.10,754.15 L768.00,754.52 L768.90,754.90 L769.80,755.27 L770.70,755.64 L771.60,756.01 L772.50,756.38 L773.40,756.74 L774.30,757.11 L775.20,757.47 L776.10,757.83 L777.00,758.19 L777.90,758.55 L778.80,758.90 L779.70,759.26 L780.60,759.61 L781.50,759.96 L782.40,760.31 L783.30,760.66 L784.20,761.00 L785.11,761.35 L786.01,761.69 L786.91,762.04 L787.81,762.38 L788.71,762.71 L789.61,763.05 L790.51,763.39 L791.41,763.72 L792.31,764.05 L793.21,764.39 L794.11,764.72 L795.01,765.04 L795.91,765.37 L796.81,765.70 L797.71,766.02 L798.61,766.34 L799.51,766.66 L800.41,766.98 L801.31,767.30 L802.21,767.62 L803.11,767.93 L804.01,768.24 L804.91,768.56 L805.81,768.87 L806.71,769.17 L807.61,769.48 L808.51,769.79 L809.41,770.09 L810.31,770.40 L811.21,770.70 L812.12,771.00 L813.02,771.30 L813.92,771.60 L814.82,771.89 L815.72,772.19 L816.62,772.48 L817.52,772.77 L818.42,773.06 L819.32,773.35 L820.22,773.64 L821.12,773.93 L822.02,774.21 L822.92,774.50 L823.82,774.78 L824.72,775.06 L825.62,775.34 L826.52,775.62 L827.42,775.90 L828.32,776.17 L829.22,776.45 L830.12,776.72 L831.02,776.99 L831.92,777.26 L832.82,777.53 L833.72,777.80 L834.62,778.07 L835.52,778.33 L836.42,778.60 L837.32,778.86 L838.22,779.12 L839.13,779.38 L840.03,779.64 L840.93,779.90 L841.83,780.16 L842.73,780.41 L843.63,780.67 L844.53,780.92 L845.43,781.17 L846.33,781.42 L847.23,781.67 L848.13,781.92 L849.03,782.16 L849.93,782.41 L850.83,782.65 L851.73,782.90 L852.63,783.14 L853.53,783.38 L854.43,783.62 L855.33,783.86 L856.23,784.10 L857.13,784.33 L858.03,784.57 L858.93,784.80 L859.83,785.03 L860.73,785.27 L861.63,785.50 L862.53,785.73 L863.43,785.95 L864.33,786.18 L865.23,786.41 L866.14,786.63 L867.04,786.85 L867.94,787.08 L868.84,787.30 L869.74,787.52 L870.64,787.74 L871.54,787.96 L872.44,788.17 L873.34,788.39 L874.24,788.60 L875.14,788.82 L876.04,789.03 L876.94,789.24 L877.84,789.45 L878.74,789.66 L879.64,789.87 L880.54,790.08 L881.44,790.29 L882.34,790.49 L883.24,790.70 L884.14,790.90 L885.04,791.10 L885.94,791.30 L886.84,791.50 L887.74,791.70 L888.64,791.90 L889.54,792.10 L890.44,792.29 L891.34,792.49 L892.24,792.68 L893.15,792.88 L894.05,793.07 L894.95,793.26 L895.85,793.45 L896.75,793.64 L897.65,793.83 L898.55,794.02 L899.45,794.21 L900.35,794.39 L901.25,794.58 L902.15,794.76 L903.05,794.94 L903.95,795.13 L904.85,795.31 L905.75,795.49 L906.65,795.67 L907.55,795.85 L908.45,796.02 L909.35,796.20 L910.25,796.38 L911.15,796.55 L912.05,796.73 L912.95,796.90 L913.85,797.07 L914.75,797.24 L915.65,797.41 L916.55,797.58 L917.45,797.75 L918.35,797.92 L919.25,798.09 L920.16,798.26 L921.06,798.42 L921.96,798.59 L922.86,798.75 L923.76,798.91 L924.66,799.08 L925.56,799.24 L926.46,799.40 L927.36,799.56 L928.26,799.72 L929.16,799.88 L930.06,800.04 L930.96,800.19 L931.86,800.35 L932.76,800.50 L933.66,800.66 L934.56,800.81 L935.46,800.97 L936.36,801.12 L937.26,801.27 L938.16,801.42 L939.06,801.57 L939.96,801.72 L940.86,801.87 L941.76,802.02 L942.66,802.17 L943.56,802.31 L944.46,802.46 L945.36,802.61 L946.26,802.75 L947.17,802.90 L948.07,803.04 L948.97,803.18 L949.87,803.32 L950.77,803.47 L951.67,803.61 L952.57,803.75 L953.47,803.89 L954.37,804.03 L955.27,804.16 L956.17,804.30 L957.07,804.44 L957.97,804.57 L958.87,804.71 L959.77,804.85 L960.67,804.98 L961.57,805.11 L962.47,805.25 L963.37,805.38 L964.27,805.51 L965.17,805.64 L966.07,805.78 L966.97,805.91 L967.87,806.04 L968.77,806.17 L969.67,806.29 L970.57,806.42 L971.47,806.55 L972.37,806.68 L973.27,806.80 L974.18,806.93 L975.08,807.06 L975.98,807.18 L976.88,807.31 L977.78,807.43 L978.68,807.55 L979.58,807.68 L980.48,807.80 L981.38,807.92 L982.28,808.04 L983.18,808.16 L984.08,808.28 L984.98,808.40 L985.88,808.52 L986.78,808.64 L987.68,808.76 L988.58,808.88 L989.48,809.00 L990.38,809.12 L991.28,809.23 L992.18,809.35 L993.08,809.47 L993.98,809.58 L994.88,809.70 L995.78,809.81 L996.68,809.93 L997.58,810.04 L998.48,810.15 L999.38,810.27 L1000.28,810.38 L1001.19,810.49 L1002.09,810.61 L1002.99,810.72 L1003.89,810.83 L1004.79,810.94 L1005.69,811.05 L1006.59,811.16 L1007.49,811.27 L1008.39,811.38 L1009.29,811.49 L1010.19,811.60 L1011.09,811.70 L1011.99,811.81 L1012.89,811.92 L1013.79,812.03 L1014.69,812.13 L1015.59,812.24 L1016.49,812.35 L1017.39,812.45 L1018.29,812.56 L1019.19,812.66 L1020.09,812.77 L1020.99,812.87 L1021.89,812.97 L1022.79,813.08 L1023.69,813.18 L1024.59,813.28 L1025.49,813.38 L1026.39,813.49 L1027.29,813.59 L1028.20,813.69 L1029.10,813.79 L1030.00,813.89 L1030.90,813.99 L1031.80,814.09 L1032.70,814.19 L1033.60,814.29 L1034.50,814.39 L1035.40,814.48 L1036.30,814.58 L1037.20,814.68 L1038.10,814.78 L1039.00,814.87 L1039.90,814.97 L1040.80,815.07 L1041.70,815.16 L1042.60,815.26 L1043.50,815.35 L1044.40,815.45 L1045.30,815.54 L1046.20,815.63 L1047.10,815.73 L1048.00,815.82 L1048.90,815.91 L1049.80,816.00 L1050.70,816.10 L1051.60,816.19 L1052.50,816.28 L1053.40,816.37 L1054.30,816.46 L1055.21,816.55 L1056.11,816.64 L1057.01,816.73 L1057.91,816.82 L1058.81,816.91 L1059.71,817.00 L1060.61,817.09 L1061.51,817.17 L1062.41,817.26 L1063.31,817.35 L1064.21,817.44 L1065.11,817.52 L1066.01,817.61 L1066.91,817.69 L1067.81,817.78 L1068.71,817.86 L1069.61,817.95 L1070.51,818.03 L1071.41,818.12 L1072.31,818.20 L1073.21,818.28 L1074.11,818.37 L1075.01,818.45 L1075.91,818.53 L1076.81,818.62 L1077.71,818.70 L1078.61,818.78 L1079.51,818.86 L1080.41,818.94 L1081.31,819.02 L1082.22,819.10 L1083.12,819.18 L1084.02,819.26 L1084.92,819.34 L1085.82,819.42 L1086.72,819.50 L1087.62,819.58 L1088.52,819.65 L1089.42,819.73 L1090.32,819.81 L1091.22,819.88 L1092.12,819.96 L1093.02,820.04 L1093.92,820.11 L1094.82,820.19 L1095.72,820.27 L1096.62,820.34 L1097.52,820.41 L1098.42,820.49 L1099.32,820.56 L1100.22,820.64 L1101.12,820.71 L1102.02,820.78 L1102.92,820.86 L1103.82,820.93 L1104.72,821.00 L1105.62,821.07 L1106.52,821.15 L1107.42,821.22 L1108.32,821.29 L1109.23,821.36 L1110.13,821.43 L1111.03,821.50 L1111.93,821.57 L1112.83,821.64 L1113.73,821.71 L1114.63,821.78 L1115.53,821.85 L1116.43,821.91 L1117.33,821.98 L1118.23,822.05 L1119.13,822.12 L1120.03,822.18 L1120.93,822.25 L1121.83,822.32 L1122.73,822.38 L1123.63,822.45 L1124.53,822.52 L1125.43,822.58 L1126.33,822.65 L1127.23,822.71 L1128.13,822.78 L1129.03,822.84 L1129.93,822.90 L1130.83,822.97 L1131.73,823.03 L1132.63,823.09 L1133.53,823.16 L1134.43,823.22 L1135.33,823.28 L1136.24,823.34 L1137.14,823.41 L1138.04,823.47 L1138.94,823.53 L1139.84,823.59 L1140.74,823.65 L1141.64,823.71 L1142.54,823.77 L1143.44,823.83 L1144.34,823.89 L1145.24,823.95 L1146.14,824.01 L1147.04,824.07 L1147.94,824.13 L1148.84,824.18 L1149.74,824.24 L1150.64,824.30 L1151.54,824.36 L1152.44,824.41 L1153.34,824.47 L1154.24,824.53 L1155.14,824.58 L1156.04,824.64 L1156.94,824.70 L1157.84,824.75 L1158.74,824.81 L1159.64,824.86 L1160.54,824.92 L1161.44,824.97 L1162.34,825.03 L1163.25,825.08 L1164.15,825.13 L1165.05,825.19 L1165.95,825.24 L1166.85,825.29 L1167.75,825.35 L1168.65,825.40 L1169.55,825.45 L1170.45,825.50 L1171.35,825.55 L1172.25,825.61 L1173.15,825.66 L1174.05,825.71 L1174.95,825.76 L1175.85,825.81 L1176.75,825.86 L1177.65,825.91 L1178.55,825.96 L1179.45,826.01 L1180.35,826.06 L1181.25,826.11 L1182.15,826.16 L1183.05,826.21 L1183.95,826.25 L1184.85,826.30 L1185.75,826.35 L1186.65,826.40 L1187.55,826.44 L1188.45,826.49 L1189.35,826.54 L1190.26,826.59 L1191.16,826.63 L1192.06,826.68 L1192.96,826.72 L1193.86,826.77 L1194.76,826.82 L1195.66,826.86 L1196.56,826.91 L1197.46,826.95 L1198.36,826.99 L1199.26,827.04 L1200.16,827.08 L1201.06,827.13 L1201.96,827.17 L1202.86,827.21 L1203.76,827.26 L1204.66,827.30 L1205.56,827.34 L1206.46,827.39 L1207.36,827.43 L1208.26,827.47 L1209.16,827.51 L1210.06,827.55 L1210.96,827.60 L1211.86,827.64 L1212.76,827.68 L1213.66,827.72 L1214.56,827.76 L1215.46,827.80 L1216.36,827.84 L1217.27,827.88 L1218.17,827.92 L1219.07,827.96 L1219.97,828.00 L1220.87,828.04 L1221.77,828.08 L1222.67,828.12 L1223.57,828.16 L1224.47,828.19 L1225.37,828.23 L1226.27,828.27 L1227.17,828.31 L1228.07,828.35 L1228.97,828.38 L1229.87,828.42 L1230.77,828.46 L1231.67,828.49 L1232.57,828.53 L1233.47,828.57 L1234.37,828.60 L1235.27,828.64 L1236.17,828.67 L1237.07,828.71 L1237.97,828.75 L1238.87,828.78 L1239.77,828.82 L1240.67,828.85 L1241.57,828.89 L1242.47,828.92 L1243.37,828.95 L1244.28,828.99 L1245.18,829.02 L1246.08,829.06 L1246.98,829.09 L1247.88,829.12 L1248.78,829.16 L1249.68,829.19 L1250.58,829.22 L1251.48,829.25 L1252.38,829.29 L1253.28,829.32 L1254.18,829.35 L1255.08,829.38 L1255.98,829.41 L1256.88,829.45 L1257.78,829.48 L1258.68,829.51 L1259.58,829.54 L1260.48,829.57 L1261.38,829.60 L1262.28,829.63 L1263.18,829.66 L1264.08,829.69 L1264.98,829.72 L1265.88,829.75 L1266.78,829.78 L1267.68,829.81 L1268.58,829.84 L1269.48,829.87 L1270.38,829.90 L1271.29,829.93 L1272.19,829.96 L1273.09,829.98 L1273.99,830.01 L1274.89,830.04 L1275.79,830.07 L1276.69,830.10 L1277.59,830.12 L1278.49,830.15 L1279.39,830.18 L1280.29,830.21 L1281.19,830.23 L1282.09,830.26 L1282.99,830.29 L1283.89,830.31 L1284.79,830.34 L1285.69,830.37 L1286.59,830.39 L1287.49,830.42 L1288.39,830.44 L1289.29,830.47 L1290.19,830.50 L1291.09,830.52 L1291.99,830.55 L1292.89,830.57 L1293.79,830.60 L1294.69,830.62 L1295.59,830.65 L1296.49,830.67 L1297.39,830.69 L1298.30,830.72 L1299.20,830.74 L1300.10,830.77 L1301.00,830.79 L1301.90,830.81 L1302.80,830.84 L1303.70,830.86 L1304.60,830.88 L1305.50,830.91 L1306.40,830.93 L1307.30,830.95 L1308.20,830.98 L1309.10,831.00 L1310.00,831.02 L1310.90,831.04 L1311.80,831.07 L1312.70,831.09 L1313.60,831.11 L1314.50,831.13 L1315.40,831.15 L1316.30,831.18 L1317.20,831.20 L1318.10,831.22 L1319.00,831.24 L1319.90,831.26 L1320.80,831.28 L1321.70,831.30 L1322.60,831.32 L1323.50,831.34 L1324.40,831.36 L1325.31,831.38 L1326.21,831.40 L1327.11,831.42 L1328.01,831.44 L1328.91,831.46 L1329.81,831.48 L1330.71,831.50 L1331.61,831.52 L1332.51,831.54 L1333.41,831.56 L1334.31,831.58 L1335.21,831.60 L1336.11,831.62 L1337.01,831.64 L1337.91,831.66 L1338.81,831.68 L1339.71,831.69 L1340.61,831.71 L1341.51,831.73 L1342.41,831.75 L1343.31,831.77 L1344.21,831.79 L1345.11,831.80 L1346.01,831.82 L1346.91,831.84 L1347.81,831.86 L1348.71,831.87 L1349.61,831.89 L1350.51,831.91 L1351.41,831.93 L1352.32,831.94 L1353.22,831.96 L1354.12,831.98 L1355.02,831.99 L1355.92,832.01 L1356.82,832.03 L1357.72,832.04 L1358.62,832.06 L1359.52,832.08 L1360.42,832.09 L1361.32,832.11 L1362.22,832.13 L1363.12,832.14 L1364.02,832.16 L1364.92,832.17 L1365.82,832.19 L1366.72,832.21 L1367.62,832.22 L1368.52,832.24 L1369.42,832.25 L1370.32,832.27 L1371.22,832.28 L1372.12,832.30 L1373.02,832.31 L1373.92,832.33 L1374.82,832.34 L1375.72,832.36 L1376.62,832.37 L1377.52,832.39 L1378.42,832.40 L1379.33,832.42 L1380.23,832.43 L1381.13,832.45 L1382.03,832.46 L1382.93,832.48 L1383.83,832.49 L1384.73,832.50 L1385.63,832.52 L1386.53,832.53 L1387.43,832.55 L1388.33,832.56 L1389.23,832.57 L1390.13,832.59 L1391.03,832.60 L1391.93,832.62 L1392.83,832.63 L1393.73,832.64 L1394.63,832.66 L1395.53,832.67 L1396.43,832.68 L1397.33,832.70 L1398.23,832.71 L1399.13,832.72 L1400.03,832.74 L1400.93,832.75 L1401.83,832.76 L1402.73,832.78 L1403.63,832.79 L1404.53,832.80 L1405.43,832.81 L1406.34,832.83 L1407.24,832.84 L1408.14,832.85 L1409.04,832.87 L1409.94,832.88 L1410.84,832.89 L1411.74,832.90 L1412.64,832.92 L1413.54,832.93 L1414.44,832.94 L1415.34,832.95 L1416.24,832.97 L1417.14,832.98 L1418.04,832.99 L1418.94,833.00 L1419.84,833.01 L1420.74,833.03 L1421.64,833.04 L1422.54,833.05 L1423.44,833.06 L1424.34,833.07 L1425.24,833.09 L1426.14,833.10 L1427.04,833.11 L1427.94,833.12 L1428.84,833.13 L1429.74,833.15 L1430.64,833.16 L1431.54,833.17 L1432.44,833.18 L1433.35,833.19 L1434.25,833.20 L1435.15,833.22 L1436.05,833.23 L1436.95,833.24 L1437.85,833.25 L1438.75,833.26 L1439.65,833.27 L1440.55,833.29 L1441.45,833.30 L1442.35,833.31 L1443.25,833.32 L1444.15,833.33 L1445.05,833.34 L1445.95,833.35 L1446.85,833.37 L1447.75,833.38 L1448.65,833.39 L1449.55,833.40 L1450.45,833.41 L1451.35,833.42 L1452.25,833.43 L1453.15,833.44 L1454.05,833.46 L1454.95,833.47 L1455.85,833.48 L1456.75,833.49 L1457.65,833.50 L1458.55,833.51 L1459.45,833.52 L1460.36,833.53 L1461.26,833.55 L1462.16,833.56 L1463.06,833.57 L1463.96,833.58 L1464.86,833.59 L1465.76,833.60 L1466.66,833.61 L1467.56,833.62 L1468.46,833.64 L1469.36,833.65 L1470.26,833.66 L1471.16,833.67 L1472.06,833.68 L1472.96,833.69 L1473.86,833.70 L1474.76,833.72 L1475.66,833.73 L1476.56,833.74 L1477.46,833.75 L1478.36,833.76 L1479.26,833.77 L1480.16,833.78 L1481.06,833.79 L1481.96,833.81 L1482.86,833.82 L1483.76,833.83 L1484.66,833.84 L1485.56,833.85 L1486.46,833.86 L1487.37,833.87 L1488.27,833.89 L1489.17,833.90 L1490.07,833.91 L1490.97,833.92 L1491.87,833.93 L1492.77,833.94 L1493.67,833.96 L1494.57,833.97 L1495.47,833.98 L1496.37,833.99 L1497.27,834.00 L1498.17,834.01 L1499.07,834.03 L1499.97,834.04 L1500.87,834.05 L1501.77,834.06 L1502.67,834.07 L1503.57,834.09 L1504.47,834.10 L1505.37,834.11 L1506.27,834.12 L1507.17,834.13 L1508.07,834.15 L1508.97,834.16 L1509.87,834.17 L1510.77,834.18 L1511.67,834.20 L1512.57,834.21 L1513.47,834.22 L1514.38,834.23 L1515.28,834.25 L1516.18,834.26 L1517.08,834.27 L1517.98,834.28 L1518.88,834.30 L1519.78,834.31 L1520.68,834.32 L1521.58,834.33 L1522.48,834.35 L1523.38,834.36 L1524.28,834.37 L1525.18,834.39 L1526.08,834.40 L1526.98,834.41 L1527.88,834.43 L1528.78,834.44 L1529.68,834.45 L1530.58,834.46 L1531.48,834.48 L1532.38,834.49 L1533.28,834.51 L1534.18,834.52 L1535.08,834.53 L1535.98,834.55 L1536.88,834.56 L1537.78,834.57 L1538.68,834.59 L1539.58,834.60 L1540.48,834.62 L1541.39,834.63 L1542.29,834.64 L1543.19,834.66 L1544.09,834.67 L1544.99,834.69 L1545.89,834.70 L1546.79,834.72 L1547.69,834.73 L1548.59,834.74 L1549.49,834.76 L1550.39,834.77 L1551.29,834.79 L1552.19,834.80 L1553.09,834.82 L1553.99,834.83 L1554.89,834.85 L1555.79,834.86 L1556.69,834.88 L1557.59,834.90 L1558.49,834.91 L1559.39,834.93 L1560.29,834.94 L1561.19,834.96 L1562.09,834.97 L1562.99,834.99 L1563.89,835.00 L1564.79,835.02 L1565.69,835.04 L1566.59,835.05 L1567.49,835.07 L1568.40,835.09 L1569.30,835.10 L1570.20,835.12 L1571.10,835.14 L1572.00,835.15 L1572.90,835.17 L1573.80,835.19 L1574.70,835.20 L1575.60,835.22 L1576.50,835.24 L1577.40,835.26 L1578.30,835.27 L1579.20,835.29 L1580.10,835.31 L1581.00,835.33" stroke="#5a0000" stroke-width="7.5" fill="none" stroke-dasharray="32.874 12.452 7.471 12.452"/>
<path d="M828.95,267.75L855.45,294.25M828.95,294.25L855.45,267.75" stroke="#0836ff" stroke-width="8.2" fill="none"/>
<rect x="825.85" y="347.85" width="32.70" height="32.70" stroke="#c80000" stroke-width="8.2" fill="none"/>
<text transform="translate(914.05,305.50)" font-size="65.5" text-anchor="start" >gauche ethanol</text>
<text transform="translate(915.81,387.50)" font-size="65.5" text-anchor="start" >trans ethanol</text>
<text transform="translate(1426.47,692.50) scale(1,1.07)" font-size="65.5" text-anchor="start" >A</text>
<text transform="translate(98.9,683.40) rotate(-90)" font-size="73.9">density (cm<tspan font-size="62" dy="-36.6" dx="2">-3</tspan><tspan dy="36.6" dx="4">)</tspan></text>
<path d="M180.5,1130.05V1894.45H1582.61" stroke="#000" stroke-width="2.9" fill="none" stroke-linecap="butt" stroke-linejoin="miter"/>
<path d="M180.5,1894.45h15.4M180.5,1703.71h15.4M180.5,1512.97h15.4M180.5,1322.24h15.4M180.5,1131.50h15.4M231.45,1894.45v-15.4M568.89,1894.45v-15.4M906.33,1894.45v-15.4M1243.77,1894.45v-15.4M1581.21,1894.45v-15.4" stroke="#000" stroke-width="2.9" fill="none"/>
<text transform="translate(159.80,1917.36) scale(1,1.045)" font-size="56.5" text-anchor="end" >0</text>
<text transform="translate(159.80,1726.62) scale(1,1.045)" font-size="56.5" text-anchor="end" >0.5</text>
<text transform="translate(159.80,1535.88) scale(1,1.045)" font-size="56.5" text-anchor="end" >1</text>
<text transform="translate(159.80,1345.14) scale(1,1.045)" font-size="56.5" text-anchor="end" >1.5</text>
<text transform="translate(159.80,1154.41) scale(1,1.045)" font-size="56.5" text-anchor="end" >2</text>
<text transform="translate(231.45,1970.86) scale(1,1.045)" font-size="56.5" text-anchor="middle" >0</text>
<text transform="translate(568.89,1970.86) scale(1,1.045)" font-size="56.5" text-anchor="middle" >20</text>
<text transform="translate(906.33,1970.86) scale(1,1.045)" font-size="56.5" text-anchor="middle" >40</text>
<text transform="translate(1243.77,1970.86) scale(1,1.045)" font-size="56.5" text-anchor="middle" >60</text>
<text transform="translate(1581.21,1970.86) scale(1,1.045)" font-size="56.5" text-anchor="middle" >80</text>
<rect x="215.00" y="1734.79" width="32.90" height="32.90" stroke="#c80000" stroke-width="4.4" fill="none"/>
<rect x="299.36" y="1735.55" width="32.90" height="32.90" stroke="#c80000" stroke-width="4.4" fill="none"/>
<rect x="383.72" y="1740.89" width="32.90" height="32.90" stroke="#c80000" stroke-width="4.4" fill="none"/>
<rect x="468.08" y="1739.75" width="32.90" height="32.90" stroke="#c80000" stroke-width="4.4" fill="none"/>
<rect x="552.44" y="1735.17" width="32.90" height="32.90" stroke="#c80000" stroke-width="4.4" fill="none"/>
<rect x="636.80" y="1737.46" width="32.90" height="32.90" stroke="#c80000" stroke-width="4.4" fill="none"/>
<rect x="721.16" y="1712.28" width="32.90" height="32.90" stroke="#c80000" stroke-width="4.4" fill="none"/>
<rect x="805.52" y="1742.04" width="32.90" height="32.90" stroke="#c80000" stroke-width="4.4" fill="none"/>
<rect x="889.88" y="1691.83" width="32.90" height="32.90" stroke="#c80000" stroke-width="4.4" fill="none"/>
<rect x="889.88" y="1731.74" width="32.90" height="32.90" stroke="#c80000" stroke-width="4.4" fill="none"/>
<rect x="889.88" y="1737.65" width="32.90" height="32.90" stroke="#c80000" stroke-width="4.4" fill="none"/>
<rect x="974.24" y="1710.75" width="32.90" height="32.90" stroke="#c80000" stroke-width="4.4" fill="none"/>
<rect x="974.24" y="1735.36" width="32.90" height="32.90" stroke="#c80000" stroke-width="4.4" fill="none"/>
<path d="M341.12,1856.53 L391.73,1819.14 L442.35,1721.86 L492.97,1631.07 L560.45,1452.52 L627.94,1218.66 L695.43,1139.31 L779.79,1193.10 L864.15,1168.31 L965.38,1223.24" stroke="#0808ff" stroke-width="8.6" fill="none" stroke-linejoin="round"/>
<path d="M322.72,1856.53L341.12,1832.33L359.52,1856.53L341.12,1880.73Z" stroke="#0808ff" stroke-width="8.5" fill="none" stroke-linejoin="miter" stroke-miterlimit="10"/>
<path d="M373.33,1819.14L391.73,1794.94L410.13,1819.14L391.73,1843.34Z" stroke="#0808ff" stroke-width="8.5" fill="none" stroke-linejoin="miter" stroke-miterlimit="10"/>
<path d="M423.95,1721.86L442.35,1697.66L460.75,1721.86L442.35,1746.06Z" stroke="#0808ff" stroke-width="8.5" fill="none" stroke-linejoin="miter" stroke-miterlimit="10"/>
<path d="M474.57,1631.07L492.97,1606.87L511.37,1631.07L492.97,1655.27Z" stroke="#0808ff" stroke-width="8.5" fill="none" stroke-linejoin="miter" stroke-miterlimit="10"/>
<path d="M542.05,1452.52L560.45,1428.32L578.85,1452.52L560.45,1476.72Z" stroke="#0808ff" stroke-width="8.5" fill="none" stroke-linejoin="miter" stroke-miterlimit="10"/>
<path d="M609.54,1218.66L627.94,1194.46L646.34,1218.66L627.94,1242.86Z" stroke="#0808ff" stroke-width="8.5" fill="none" stroke-linejoin="miter" stroke-miterlimit="10"/>
<path d="M677.03,1139.31L695.43,1115.11L713.83,1139.31L695.43,1163.51Z" stroke="#0808ff" stroke-width="8.5" fill="none" stroke-linejoin="miter" stroke-miterlimit="10"/>
<path d="M761.39,1193.10L779.79,1168.90L798.19,1193.10L779.79,1217.30Z" stroke="#0808ff" stroke-width="8.5" fill="none" stroke-linejoin="miter" stroke-miterlimit="10"/>
<path d="M845.75,1168.31L864.15,1144.11L882.55,1168.31L864.15,1192.51Z" stroke="#0808ff" stroke-width="8.5" fill="none" stroke-linejoin="miter" stroke-miterlimit="10"/>
<path d="M946.98,1223.24L965.38,1199.04L983.78,1223.24L965.38,1247.44Z" stroke="#0808ff" stroke-width="8.5" fill="none" stroke-linejoin="miter" stroke-miterlimit="10"/>
<path d="M796.9,1405.1H919.7" stroke="#0808ff" stroke-width="8.6"/>
<path d="M839.90,1404.70L858.30,1380.50L876.70,1404.70L858.30,1428.90Z" stroke="#0808ff" stroke-width="8.5" fill="none" stroke-linejoin="miter" stroke-miterlimit="10"/>
<rect x="841.85" y="1473.35" width="32.90" height="32.90" stroke="#c80000" stroke-width="4.4" fill="none"/>
<text transform="translate(931.11,1430.60)" font-size="65.5" text-anchor="start" >trans/gauche ratio</text>
<text transform="translate(930.03,1514.40) scale(1,1.02)" font-size="65.5" text-anchor="start" >ME-g/ME-t dimer ratio</text>
<text transform="translate(1412.83,1778.60) scale(1,1.07)" font-size="65.5" text-anchor="start" >B</text>
<text transform="translate(51.4,1941.31) rotate(-90) scale(1,1.02)" font-size="69.4">ratio trans/summed gauche</text>
<text transform="translate(745.01,2053.60) scale(1,1.02)" font-size="65.5" text-anchor="start" >time (ms)</text>
</svg>
</body></html>
